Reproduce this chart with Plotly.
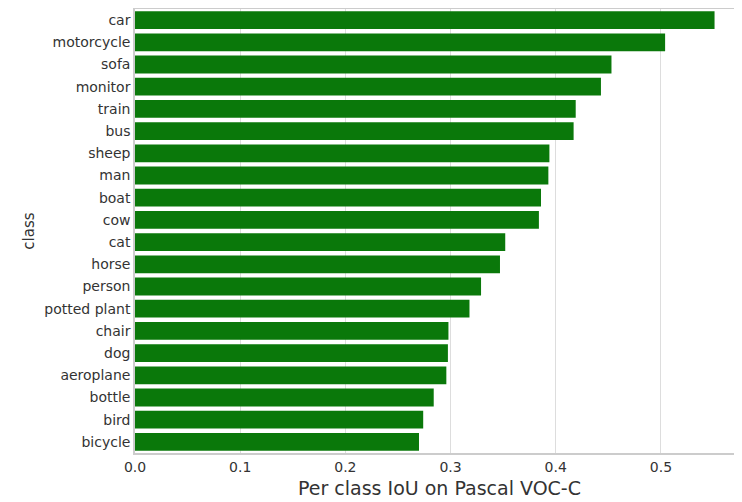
import plotly.graph_objects as go

classes = ['car', 'motorcycle', 'sofa', 'monitor', 'train', 'bus', 'sheep', 'man', 'boat', 'cow',
           'cat', 'horse', 'person', 'potted plant', 'chair', 'dog', 'aeroplane', 'bottle', 'bird', 'bicycle']
iou = [0.551, 0.504, 0.453, 0.443, 0.419, 0.417, 0.394, 0.393, 0.386, 0.384,
       0.352, 0.347, 0.329, 0.318, 0.298, 0.2975, 0.296, 0.284, 0.274, 0.270]
xticks = [0.0, 0.1, 0.2, 0.3, 0.4, 0.5]

fig = go.Figure(go.Bar(x=iou, y=classes, orientation='h',
                       marker=dict(color='#0a780a', line=dict(width=0)), width=0.8))

fig.update_layout(
    width=742, height=502,
    margin=dict(l=127, r=6, t=1, b=57, autoexpand=False),
    plot_bgcolor='white', paper_bgcolor='white',
    font=dict(family='DejaVu Sans', color='#333333', size=14),
    showlegend=False,
    bargap=0.2,
)
fig.update_xaxes(range=[0, 0.579], tickvals=xticks, ticktext=[f'{v:.1f}' for v in xticks],
                 showgrid=True, gridcolor='#dddddd', zeroline=False, automargin=False,
                 showline=True, mirror=True, linecolor='#cccccc', linewidth=1.5,
                 title=dict(text='Per class IoU on Pascal VOC-C', font=dict(size=19), standoff=8))
fig.update_yaxes(showgrid=False, zeroline=False, automargin=False,
                 showline=True, mirror=True, linecolor='#cccccc', linewidth=1.5,
                 range=[len(classes) - 0.5, -0.5],
                 title=dict(text='class', font=dict(size=15), standoff=6), ticks='')

fig.write_html('out.html')
